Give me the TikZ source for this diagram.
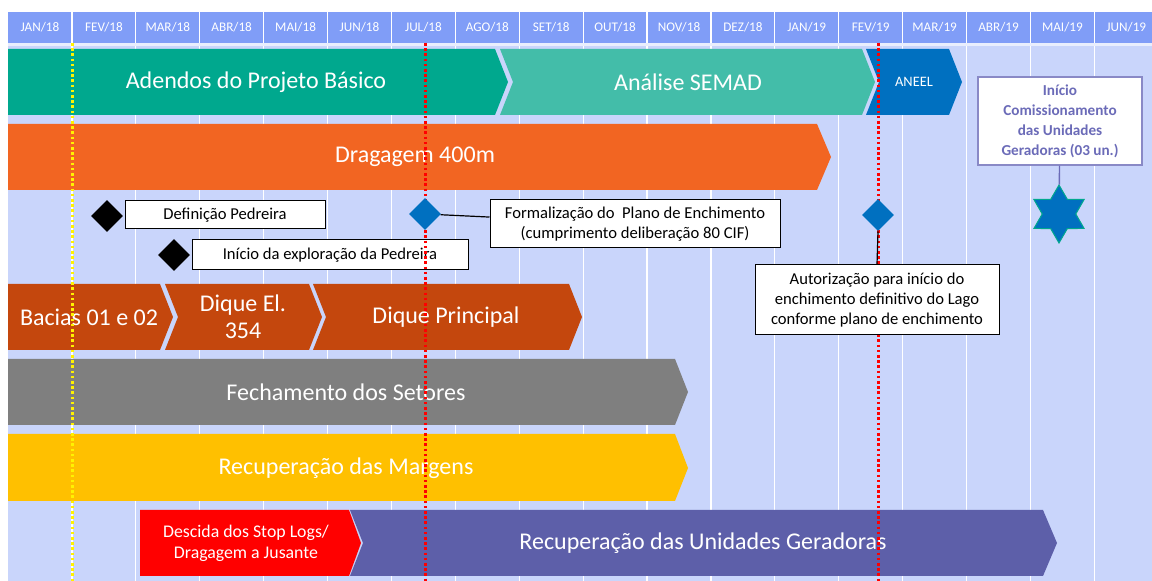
\documentclass[tikz,border=0pt]{standalone}
\usepackage{fontspec}
\setmainfont{Carlito}
\usetikzlibrary{shapes.geometric}
\definecolor{gridbg}{HTML}{C9D5FB}
\definecolor{headbg}{HTML}{809DF7}
\definecolor{tealA}{HTML}{00A88E}
\definecolor{tealB}{HTML}{43BDA9}
\definecolor{aneel}{HTML}{0070C0}
\definecolor{dragorange}{HTML}{F26522}
\definecolor{dique}{HTML}{C4470D}
\definecolor{setgrey}{HTML}{7F7F7F}
\definecolor{margyellow}{HTML}{FFC000}
\definecolor{stopred}{HTML}{FF0000}
\definecolor{ugpurple}{HTML}{5D5FA9}
\definecolor{comtext}{HTML}{6B6BB8}
\definecolor{dotyellow}{HTML}{FFF200}
\tikzset{
  month/.style={font=\fontsize{6.6}{7}\selectfont,text=white},
  barlabel/.style={font=\fontsize{12}{13.5}\selectfont,text=white,align=center},
  notebox/.style={draw=black,fill=white,line width=0.5pt,font=\fontsize{8.3}{10}\selectfont,align=center,inner sep=0pt},
  milestone/.style={diamond,inner sep=0pt,minimum width=16pt,minimum height=16pt},
  marker/.style={line width=1.5pt,dash pattern=on 1.3pt off 1.3pt}
}
\begin{document}
\begin{tikzpicture}[x=0.5pt,y=-0.5pt]
\useasboundingbox (0,0) rectangle (1152,581);
\fill[white] (0,0) rectangle (1152,581);
\fill[gridbg] (8,12) rectangle (1152,581);
\fill[headbg] (8,12) rectangle (1152,43);
% month grid
\foreach \i in {1,...,17}
  \draw[white,line width=0.6pt] ({8+\i*63.9},12) -- ({8+\i*63.9},581);
\draw[white!60!gridbg,line width=1.5pt] (8,45) -- (1152,45);
\foreach \m [count=\i from 0] in {JAN/18,FEV/18,MAR/18,ABR/18,MAI/18,JUN/18,JUL/18,AGO/18,SET/18,OUT/18,NOV/18,DEZ/18,JAN/19,FEV/19,MAR/19,ABR/19,MAI/19,JUN/19}
  \node[month] (m\i) at ({40+\i*63.9},27) {\m};

% licenciamento
\fill[tealA] (8,49) -- (495,49) -- (508,82) -- (495,115) -- (8,115) -- cycle;
\node[barlabel] (adendos) at (256,82) {Adendos do Projeto Básico};
\fill[tealB] (500,49) -- (862,49) -- (875,82) -- (862,115) -- (500,115) -- (513,82) -- cycle;
\node[barlabel] (semad) at (688,82) {Análise SEMAD};
\fill[aneel] (866,49) -- (949,49) -- (962,82) -- (949,115) -- (866,115) -- (879,82) -- cycle;
\node[font=\fontsize{7.2}{8}\selectfont,text=white] (aneeltxt) at (914,82) {ANEEL};

% dragagem
\fill[dragorange] (8,124) -- (817,124) -- (831,157) -- (817,190) -- (8,190) -- cycle;
\node[barlabel] (dragagem) at (415,157) {Dragagem 400m};

% diques
\fill[dique] (8,284) -- (160,284) -- (173,317) -- (160,350) -- (8,350) -- cycle;
\node[barlabel] (bacias) at (89,317) {Bacias 01 e 02};
\fill[dique] (165,284) -- (309,284) -- (322,317) -- (309,350) -- (165,350) -- (178,317) -- cycle;
\node[barlabel] (diqueel) at (243,317) {Dique El.\\354};
\fill[dique] (313,284) -- (569,284) -- (582,317) -- (569,350) -- (313,350) -- (326,317) -- cycle;
\node[barlabel] (diquepr) at (446,317) {Dique Principal};

% setores e margens
\fill[setgrey] (8,359) -- (675,359) -- (688,392) -- (675,425) -- (8,425) -- cycle;
\node[barlabel] (setores) at (346,392) {Fechamento dos Setores};
\fill[margyellow] (8,434) -- (675,434) -- (688,468) -- (675,501) -- (8,501) -- cycle;
\node[barlabel] (margens) at (346,468) {Recuperação das Margens};

% unidades geradoras
\fill[stopred] (140,510) -- (349,510) -- (361,543) -- (349,576) -- (140,576) -- cycle;
\node[barlabel,font=\fontsize{8.9}{10.5}\selectfont] (stoplogs) at (246,543) {Descida dos Stop Logs/\\Dragagem a Jusante};
\fill[ugpurple] (350,510) -- (1043,510) -- (1057,543) -- (1043,576) -- (350,576) -- (363,543) -- cycle;
\node[barlabel] (unidades) at (703,543) {Recuperação das Unidades Geradoras};

% marcos
\node[milestone,fill=black] (d1) at (107,216) {};
\node[notebox,minimum width=100pt,minimum height=14pt] (defped) at (225,215) {Definição Pedreira};
\node[milestone,fill=black] (d2) at (174,255) {};
\node[notebox,minimum width=138pt,minimum height=15pt] (iniped) at (330,255) {Início da exploração da Pedreira};

% datas de referencia
\draw[marker,dotyellow] (72,43) -- (72,581);
\draw[marker,red] (425,43) -- (425,581);
\draw[marker,red] (878,43) -- (878,581);

\node[milestone,fill=aneel] (d3) at (425,214) {};
\node[notebox,minimum width=145pt,minimum height=24pt] (formal) at (635,224) {Formalização do\ \ Plano de Enchimento\\(cumprimento deliberação 80 CIF)};
\draw[line width=0.6pt] (d3) -- (formal);
\node[milestone,fill=aneel] (d4) at (878,215) {};
\node[notebox,minimum width=122pt,minimum height=35pt] (autoriz) at (877,300) {Autorização para início do\\enchimento definitivo do Lago\\conforme plano de enchimento};
\draw[line width=0.6pt] (d4.south) -- (autoriz.north);

% comissionamento
\node[notebox,draw=comtext!80,line width=0.7pt,text=comtext,font=\bfseries\fontsize{7.6}{10}\selectfont,minimum width=82pt,minimum height=44pt] (comiss) at (1060,121) {Início\\Comissionamento\\das Unidades\\Geradoras (03 un.)};
\node[star,star points=6,star point ratio=1.73,fill=aneel,draw=tealA,line width=0.5pt,inner sep=0pt,minimum size=29pt] (star) at (1059,214) {};
\draw[comtext,line width=0.7pt] (comiss) -- (star);
\end{tikzpicture}
\end{document}
